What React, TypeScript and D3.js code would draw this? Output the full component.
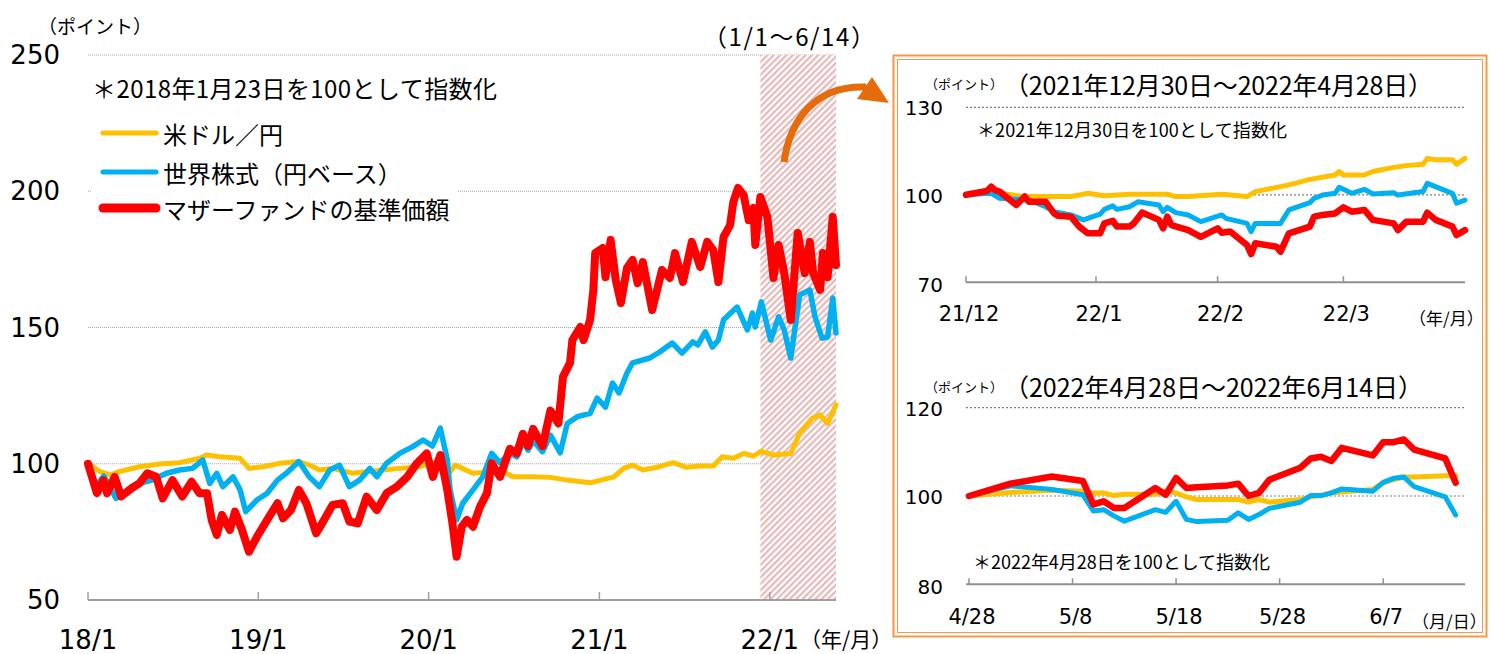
import * as d3 from "d3"

const parse = d3.timeParse("%Y-%m-%d")

// ---- 本体チャート（2018年1月23日=100） ----
const mainFxRate: [string, number][] = [
  ["2018-01-23", 100], ["2018-02-18", 97.1], ["2018-03-12", 95.9], ["2018-03-31", 97.1], ["2018-05-13", 98.9],
  ["2018-06-25", 99.9], ["2018-08-07", 100.4], ["2018-09-19", 102.0], ["2018-10-04", 103.2], ["2018-11-01", 102.6],
  ["2018-12-15", 102.0], ["2019-01-03", 98.3], ["2019-02-02", 98.9], ["2019-03-11", 100.2], ["2019-04-20", 100.8],
  ["2019-05-12", 99.5], ["2019-06-03", 97.7], ["2019-07-01", 98.3], ["2019-08-13", 96.5], ["2019-09-12", 97.1],
  ["2019-10-17", 97.7], ["2019-11-22", 98.3], ["2020-01-04", 98.9], ["2020-01-26", 100.2], ["2020-02-20", 101.2],
  ["2020-03-09", 97.0], ["2020-03-20", 99.5], ["2020-04-27", 96.5], ["2020-06-08", 97.1], ["2020-06-24", 97.7],
  ["2020-07-22", 95.2], ["2020-09-03", 95.2], ["2020-10-10", 95.0], ["2020-11-15", 94.0], ["2021-01-03", 93.0],
  ["2021-01-26", 94.0], ["2021-02-23", 95.2], ["2021-03-16", 98.3], ["2021-04-04", 99.5], ["2021-04-26", 97.7],
  ["2021-05-26", 98.7], ["2021-06-30", 100.4], ["2021-07-29", 98.7], ["2021-08-27", 99.2], ["2021-09-24", 99.2],
  ["2021-10-13", 102.6], ["2021-11-06", 102.0], ["2021-11-28", 103.8], ["2021-12-19", 102.8], ["2022-01-04", 104.6],
  ["2022-01-31", 103.2], ["2022-03-09", 103.8], ["2022-03-28", 111.2], ["2022-04-24", 116.7], ["2022-05-11", 117.9],
  ["2022-05-27", 114.8], ["2022-06-14", 121.6],
]

const mainWorldEquity: [string, number][] = [
  ["2018-01-23", 100], ["2018-02-09", 92.0], ["2018-02-26", 95.5], ["2018-03-24", 87.3], ["2018-04-15", 89.2],
  ["2018-05-13", 92.8], ["2018-06-09", 94.0], ["2018-07-10", 96.5], ["2018-08-07", 97.7], ["2018-09-04", 98.3],
  ["2018-09-26", 101.4], ["2018-10-11", 92.8], ["2018-10-26", 96.5], ["2018-11-08", 91.6], ["2018-11-30", 95.2],
  ["2018-12-15", 90.4], ["2018-12-27", 82.4], ["2019-01-20", 86.7], ["2019-02-11", 89.2], ["2019-03-05", 94.0],
  ["2019-03-24", 96.5], ["2019-04-20", 100.8], ["2019-05-12", 95.2], ["2019-06-03", 91.6], ["2019-06-25", 97.7],
  ["2019-07-16", 99.5], ["2019-08-06", 91.6], ["2019-08-28", 94.0], ["2019-09-19", 98.3], ["2019-10-04", 95.2],
  ["2019-10-25", 100.2], ["2019-11-22", 103.8], ["2019-12-20", 106.3], ["2020-01-11", 108.7], ["2020-01-31", 106.5],
  ["2020-02-17", 113.1], ["2020-03-03", 101.4], ["2020-03-09", 90.4], ["2020-03-23", 79.4], ["2020-04-05", 85.5],
  ["2020-04-27", 90.4], ["2020-05-18", 95.2], ["2020-06-06", 103.8], ["2020-06-24", 100.3], ["2020-07-15", 104.0],
  ["2020-07-30", 102.5], ["2020-08-12", 108.0], ["2020-08-23", 105.0], ["2020-09-03", 108.5], ["2020-09-23", 104.4],
  ["2020-10-10", 110.5], ["2020-10-31", 104.0], ["2020-11-15", 114.8], ["2020-12-07", 117.3], ["2021-01-03", 118.5],
  ["2021-01-18", 124.1], ["2021-02-05", 120.8], ["2021-02-20", 129.6], ["2021-03-06", 126.0], ["2021-03-23", 133.3],
  ["2021-04-04", 137.0], ["2021-05-11", 138.8], ["2021-06-01", 141.0], ["2021-06-28", 144.3], ["2021-07-19", 140.6],
  ["2021-08-11", 144.7], ["2021-08-22", 143.6], ["2021-09-07", 148.4], ["2021-09-22", 142.8], ["2021-10-05", 145.4],
  ["2021-10-16", 152.8], ["2021-11-14", 157.5], ["2021-12-06", 149.1], ["2021-12-17", 155.3], ["2021-12-23", 150.2],
  ["2022-01-05", 159.4], ["2022-01-25", 145.4], ["2022-02-11", 153.9], ["2022-02-23", 149.1], ["2022-03-09", 138.8],
  ["2022-03-28", 161.9], ["2022-04-19", 163.8], ["2022-04-30", 153.9], ["2022-05-15", 146.1], ["2022-05-27", 146.5],
  ["2022-06-07", 160.8], ["2022-06-14", 148.0],
]

const mainMotherFund: [string, number][] = [
  ["2018-01-23", 100], ["2018-02-11", 89.2], ["2018-02-25", 94.0], ["2018-03-05", 89.2], ["2018-03-21", 95.2],
  ["2018-04-04", 88.0], ["2018-04-26", 91.0], ["2018-05-13", 92.8], ["2018-05-30", 96.5], ["2018-06-18", 95.2],
  ["2018-07-02", 87.3], ["2018-07-23", 94.0], ["2018-08-13", 88.0], ["2018-09-02", 93.4], ["2018-09-19", 89.2],
  ["2018-10-05", 89.2], ["2018-10-15", 79.4], ["2018-10-26", 73.9], ["2018-11-06", 81.2], ["2018-11-23", 75.7],
  ["2018-12-04", 82.4], ["2018-12-19", 75.7], ["2019-01-03", 67.7], ["2019-01-20", 73.2], ["2019-02-11", 79.4],
  ["2019-03-05", 85.5], ["2019-03-17", 80.0], ["2019-04-03", 83.0], ["2019-04-20", 90.4], ["2019-05-06", 85.5],
  ["2019-05-27", 74.5], ["2019-06-13", 79.4], ["2019-07-01", 84.9], ["2019-07-23", 85.5], ["2019-08-06", 78.8],
  ["2019-08-24", 78.1], ["2019-09-12", 87.9], ["2019-10-04", 83.0], ["2019-10-25", 89.2], ["2019-11-16", 91.6],
  ["2019-12-08", 95.2], ["2019-12-29", 100.2], ["2020-01-19", 103.8], ["2020-02-01", 95.2], ["2020-02-17", 103.2],
  ["2020-03-03", 90.4], ["2020-03-14", 78.1], ["2020-03-23", 65.9], ["2020-04-03", 76.9], ["2020-04-14", 79.4],
  ["2020-04-27", 76.9], ["2020-05-12", 84.2], ["2020-05-27", 89.2], ["2020-06-06", 100.2], ["2020-06-24", 95.2],
  ["2020-07-15", 105.5], ["2020-07-30", 103.8], ["2020-08-12", 111.0], ["2020-08-23", 106.5], ["2020-09-03", 112.8],
  ["2020-09-23", 106.5], ["2020-10-10", 119.5], ["2020-10-27", 114.8], ["2020-11-06", 132.0], ["2020-11-21", 137.0],
  ["2020-11-26", 145.4], ["2020-12-13", 150.2], ["2020-12-20", 145.4], ["2021-01-03", 152.8], ["2021-01-10", 163.8],
  ["2021-01-14", 177.3], ["2021-01-30", 179.2], ["2021-02-05", 168.5], ["2021-02-16", 182.1], ["2021-02-27", 167.4],
  ["2021-03-10", 159.0], ["2021-03-23", 171.8], ["2021-04-04", 174.8], ["2021-04-15", 166.3], ["2021-04-26", 174.0],
  ["2021-05-16", 156.4], ["2021-06-06", 171.1], ["2021-06-23", 168.2], ["2021-07-04", 177.3], ["2021-07-21", 166.7],
  ["2021-08-09", 181.4], ["2021-08-27", 172.2], ["2021-09-11", 181.4], ["2021-09-24", 178.4], ["2021-10-05", 166.7],
  ["2021-10-16", 183.2], ["2021-10-30", 187.6], ["2021-11-06", 196.1], ["2021-11-16", 201.2], ["2021-11-28", 198.6],
  ["2021-12-09", 189.4], ["2021-12-19", 193.9], ["2021-12-23", 180.3], ["2022-01-03", 197.9], ["2022-01-18", 190.6],
  ["2022-01-31", 168.2], ["2022-02-11", 180.3], ["2022-02-23", 170.0], ["2022-03-09", 152.8], ["2022-03-24", 184.7],
  ["2022-04-08", 170.0], ["2022-04-19", 181.4], ["2022-04-26", 170.0], ["2022-05-11", 163.8], ["2022-05-17", 177.3],
  ["2022-05-27", 168.5], ["2022-06-07", 190.6], ["2022-06-14", 172.9],
]

const mainTickDates = ["2018-01-23", "2019-01-23", "2020-01-23", "2021-01-23", "2022-01-23"]
const mainTickLabels = ["18/1", "19/1", "20/1", "21/1", "22/1"]
const mainYTicks = [50, 100, 150, 200, 250]
const highlightRange = ["2022-01-03", "2022-06-14"]

// ---- 挿入図1（2021年12月30日=100） ----
const inset1FxRate: [string, number][] = [
  ["2021-12-30", 100], ["2022-01-04", 101.1], ["2022-01-07", 100.6], ["2022-01-12", 99.5], ["2022-01-18", 99.4],
  ["2022-01-24", 99.4], ["2022-01-28", 100.5], ["2022-02-01", 99.7], ["2022-02-07", 100.2], ["2022-02-16", 100.2],
  ["2022-02-18", 99.4], ["2022-02-21", 99.4], ["2022-03-01", 100.2], ["2022-03-07", 99.4], ["2022-03-09", 101.1],
  ["2022-03-15", 102.8], ["2022-03-17", 103.4], ["2022-03-22", 105.3], ["2022-03-28", 106.8], ["2022-03-29", 108.0],
  ["2022-03-30", 106.8], ["2022-04-04", 106.8], ["2022-04-06", 108.0], ["2022-04-11", 109.4], ["2022-04-14", 110.0],
  ["2022-04-18", 110.5], ["2022-04-19", 112.5], ["2022-04-21", 112.0], ["2022-04-25", 112.0], ["2022-04-26", 110.5],
  ["2022-04-28", 112.5],
]

const inset1WorldEquity: [string, number][] = [
  ["2021-12-30", 100], ["2022-01-05", 100.5], ["2022-01-07", 98.8], ["2022-01-11", 98.5], ["2022-01-14", 98.2],
  ["2022-01-18", 95.9], ["2022-01-20", 94.2], ["2022-01-24", 93.1], ["2022-01-27", 91.4], ["2022-01-28", 91.9],
  ["2022-01-31", 93.4], ["2022-02-01", 95.0], ["2022-02-03", 96.2], ["2022-02-04", 95.0], ["2022-02-07", 95.9],
  ["2022-02-09", 97.6], ["2022-02-14", 96.5], ["2022-02-15", 94.2], ["2022-02-16", 95.7], ["2022-02-18", 93.9],
  ["2022-02-21", 93.1], ["2022-02-24", 90.8], ["2022-03-01", 93.1], ["2022-03-02", 91.9], ["2022-03-07", 90.2],
  ["2022-03-08", 87.4], ["2022-03-09", 90.2], ["2022-03-15", 90.2], ["2022-03-17", 94.8], ["2022-03-22", 97.3],
  ["2022-03-23", 98.8], ["2022-03-25", 99.9], ["2022-03-28", 100.5], ["2022-03-29", 102.6], ["2022-04-01", 100.5],
  ["2022-04-04", 101.9], ["2022-04-06", 100.3], ["2022-04-11", 100.7], ["2022-04-12", 99.9], ["2022-04-18", 101.1],
  ["2022-04-19", 103.9], ["2022-04-25", 100.5], ["2022-04-26", 97.1], ["2022-04-28", 98.2],
]

const inset1MotherFund: [string, number][] = [
  ["2021-12-30", 100], ["2022-01-04", 101.3], ["2022-01-05", 102.8], ["2022-01-06", 101.5], ["2022-01-07", 101.1],
  ["2022-01-11", 96.5], ["2022-01-13", 99.4], ["2022-01-14", 97.6], ["2022-01-18", 97.6], ["2022-01-20", 93.6],
  ["2022-01-21", 92.8], ["2022-01-24", 92.5], ["2022-01-26", 89.1], ["2022-01-28", 86.8], ["2022-01-31", 86.8],
  ["2022-02-01", 90.2], ["2022-02-03", 91.1], ["2022-02-04", 89.1], ["2022-02-07", 89.1], ["2022-02-08", 90.2],
  ["2022-02-10", 93.9], ["2022-02-14", 91.4], ["2022-02-15", 88.5], ["2022-02-16", 92.5], ["2022-02-17", 89.6],
  ["2022-02-21", 87.9], ["2022-02-24", 85.6], ["2022-02-28", 88.5], ["2022-03-01", 87.0], ["2022-03-03", 87.4],
  ["2022-03-07", 82.8], ["2022-03-08", 79.7], ["2022-03-09", 83.4], ["2022-03-14", 82.2], ["2022-03-15", 80.5],
  ["2022-03-17", 86.8], ["2022-03-22", 89.1], ["2022-03-23", 92.5], ["2022-03-25", 93.1], ["2022-03-28", 93.6],
  ["2022-03-30", 95.7], ["2022-04-01", 94.2], ["2022-04-04", 94.8], ["2022-04-06", 91.4], ["2022-04-11", 90.2],
  ["2022-04-12", 87.9], ["2022-04-14", 90.8], ["2022-04-18", 90.8], ["2022-04-19", 93.9], ["2022-04-21", 91.4],
  ["2022-04-25", 89.1], ["2022-04-26", 86.2], ["2022-04-28", 87.9],
]

const inset1TickDates = ["2021-12-30", "2022-01-30", "2022-02-28", "2022-03-30"]
const inset1TickLabels = ["21/12", "22/1", "22/2", "22/3"]

// ---- 挿入図2（2022年4月28日=100） ----
const inset2Dates = [
  "2022-04-28", "2022-05-02", "2022-05-06", "2022-05-09", "2022-05-10", "2022-05-11", "2022-05-12", "2022-05-13",
  "2022-05-16", "2022-05-17", "2022-05-18", "2022-05-19", "2022-05-20", "2022-05-23", "2022-05-24", "2022-05-25",
  "2022-05-26", "2022-05-27", "2022-05-30", "2022-05-31", "2022-06-01", "2022-06-02", "2022-06-03", "2022-06-06",
  "2022-06-07", "2022-06-08", "2022-06-09", "2022-06-10", "2022-06-13", "2022-06-14",
]
const inset2FxRate = [100, 100.8, 101.3, 101.1, 100.7, 100.7, 100.1, 100.4, 100.4, 101.1, 100.7, 99.8, 99.2, 99.2, 99.2,
  98.6, 99.2, 98.6, 99.2, 99.8, 100.1, 100.7, 100.9, 101.5, 103.0, 103.7, 104.3, 104.3, 104.6, 104.6]
const inset2WorldEquity = [100, 102.3, 101.5, 100.3, 96.6, 96.9, 95.5, 94.3, 96.9, 96.3, 98.8, 94.7, 94.2, 94.5, 96.2,
  94.7, 95.8, 97.2, 98.6, 100.1, 100.1, 100.7, 101.6, 101.1, 103.1, 104.0, 104.3, 102.1, 99.8, 95.7]
const inset2MotherFund = [100, 102.8, 104.4, 103.4, 98.1, 98.8, 97.3, 97.3, 101.8, 100.3, 104.1, 101.8, 102.0, 102.4, 102.8,
  100.0, 100.7, 103.7, 106.4, 108.5, 108.9, 107.9, 110.9, 109.2, 112.2, 112.2, 112.8, 110.5, 108.5, 103.0]
const inset2TickDates = ["2022-04-28", "2022-05-08", "2022-05-18", "2022-05-28", "2022-06-07"]
const inset2TickLabels = ["4/28", "5/8", "5/18", "5/28", "6/7"]

const legendLabels = ["米ドル／円", "世界株式（円ベース）", "マザーファンドの基準価額"]

const YELLOW = "#FFC000"
const BLUE = "#00B0F0"
const RED = "#FF0000"
const ORANGE = "#F79646"
const JP = "'Noto Sans CJK JP', sans-serif"
const NUM = "'DejaVu Sans', sans-serif"

type Pt = [string, number]

function pathOf(data: Pt[], x: d3.ScaleTime<number, number>, y: d3.ScaleLinear<number, number>) {
  return d3.line<Pt>()
    .x(d => x(parse(d[0])!))
    .y(d => y(d[1]))(data) || ""
}

const Series = ({ d, color, w }: { d: string, color: string, w: number }) => (
  <path d={d} fill="none" stroke={color} strokeWidth={w} strokeLinejoin="round" strokeLinecap="round" />
)

export default function App() {
  // 本体
  const xMain = d3.scaleTime().domain([parse("2018-01-23")!, parse("2022-06-14")!]).range([88, 836])
  const yMain = d3.scaleLinear().domain([50, 250]).range([600, 55])
  const hx0 = xMain(parse(highlightRange[0])!)
  const hx1 = xMain(parse(highlightRange[1])!)

  // 挿入図1
  const x1 = d3.scaleTime().domain([parse("2021-12-30")!, parse("2022-04-28")!]).range([966, 1465])
  const y1 = d3.scaleLinear().domain([70, 130]).range([282.3, 107.3])

  // 挿入図2
  const x2 = d3.scaleTime().domain([parse("2022-04-28")!, parse("2022-06-15")!]).range([969, 1466])
  const y2 = d3.scaleLinear().domain([80, 120]).range([584.3, 407.7])
  const toPts = (vals: number[]): Pt[] => inset2Dates.map((dt, i) => [dt, vals[i]])

  const legendY = [133, 172, 208]
  const legendColors = [YELLOW, BLUE, RED]
  const legendWidths = [5, 5, 9]

  return (
    <svg width={1491} height={654} style={{ position: "absolute", left: 0, top: 0, background: "#fff" }}>
      <defs>
        <pattern id="hatch" width={4.5} height={4.5} patternUnits="userSpaceOnUse" patternTransform="rotate(45)">
          <rect width={4.5} height={4.5} fill="#fff" />
          <rect width={2.2} height={4.5} fill="#E6B9B8" />
        </pattern>
      </defs>

      {/* 本体：目盛線 */}
      {mainYTicks.filter(v => v > 50).map(v => (
        <line key={v} x1={88} x2={836} y1={yMain(v)} y2={yMain(v)} stroke="#a6a6a6" strokeWidth={1} strokeDasharray="1,1" />
      ))}
      <rect x={hx0} y={yMain(250)} width={hx1 - hx0} height={yMain(50) - yMain(250)} fill="url(#hatch)" />

      {/* 凡例の背景 */}
      <rect x={92} y={113} width={366} height={112} fill="#fff" />

      {/* 本体：軸 */}
      <line x1={88} x2={836} y1={600} y2={600} stroke="#a0a0a0" strokeWidth={2} />
      {mainTickDates.map((t, i) => {
        const x = xMain(parse(t)!)
        return (
          <g key={t}>
            <line x1={x} x2={x} y1={600} y2={592} stroke="#a0a0a0" strokeWidth={1.5} />
            <text x={x} y={640} textAnchor="middle" dominantBaseline="central" fontFamily={NUM} fontSize={26}>{mainTickLabels[i]}</text>
          </g>
        )
      })}
      {mainYTicks.map(v => (
        <text key={v} x={60} y={yMain(v)} textAnchor="end" dominantBaseline="central" fontFamily={NUM} fontSize={26}>{v}</text>
      ))}
      <text x={800} y={638} dominantBaseline="central" fontFamily={JP} fontSize={21}>（年/月）</text>
      <text x={38} y={25} dominantBaseline="central" fontFamily={JP} fontSize={19}>（ポイント）</text>
      <text x={703} y={35} dominantBaseline="central" fontFamily={JP} fontSize={24} textLength={172}>（1/1～6/14）</text>
      <text x={92} y={87} dominantBaseline="central" fontFamily={JP} fontSize={24} textLength={405}>＊2018年1月23日を100として指数化</text>

      {/* 本体：系列 */}
      <Series d={pathOf(mainFxRate, xMain, yMain)} color={YELLOW} w={5} />
      <Series d={pathOf(mainWorldEquity, xMain, yMain)} color={BLUE} w={5.5} />
      <Series d={pathOf(mainMotherFund, xMain, yMain)} color={RED} w={8} />

      {/* 凡例 */}
      {legendLabels.map((l, i) => (
        <g key={l}>
          <line x1={103} x2={156} y1={legendY[i]} y2={legendY[i]} stroke={legendColors[i]} strokeWidth={legendWidths[i]} strokeLinecap="round" />
          <text x={163} y={legendY[i]} dominantBaseline="central" fontFamily={JP} fontSize={24}>{l}</text>
        </g>
      ))}

      {/* 矢印 */}
      <path d="M784,162 C790,120 815,85 866,87" fill="none" stroke="#E46C0A" strokeWidth={7} />
      <polygon points="872,77 889,103 857,99" fill="#E46C0A" />

      {/* 挿入図の枠 */}
      <rect x={893.5} y={55.5} width={593} height={581} fill="#fff" stroke={ORANGE} strokeWidth={2} />
      <rect x={897.5} y={59.5} width={585} height={573} fill="none" stroke={ORANGE} strokeWidth={1} />

      {/* 挿入図1 */}
      {[130, 100].map(v => (
        <line key={v} x1={966} x2={1466} y1={y1(v)} y2={y1(v)} stroke="#808080" strokeWidth={1.2} strokeDasharray="2,2" />
      ))}
      <line x1={966} x2={1465} y1={y1(70)} y2={y1(70)} stroke="#909090" strokeWidth={2} />
      {inset1TickDates.map((t, i) => {
        const x = x1(parse(t)!)
        return (
          <g key={t}>
            <line x1={x} x2={x} y1={y1(70)} y2={y1(70) - 6} stroke="#909090" strokeWidth={1.5} />
            <text x={x + 3} y={313.5} textAnchor="middle" dominantBaseline="central" fontFamily={NUM} fontSize={21}>{inset1TickLabels[i]}</text>
          </g>
        )
      })}
      {[130, 100, 70].map(v => (
        <text key={v} x={943} y={y1(v) + (v === 70 ? 3 : 1)} textAnchor="end" dominantBaseline="central" fontFamily={NUM} fontSize={20}>{v}</text>
      ))}
      <text x={925} y={83.5} dominantBaseline="central" fontFamily={JP} fontSize={13}>（ポイント）</text>
      <text x={1004} y={84} dominantBaseline="central" fontFamily={JP} fontSize={25} textLength={429}>（2021年12月30日～2022年4月28日）</text>
      <text x={977} y={129} dominantBaseline="central" fontFamily={JP} fontSize={18} textLength={310}>＊2021年12月30日を100として指数化</text>
      <text x={1409} y={317} dominantBaseline="central" fontFamily={JP} fontSize={17}>（年/月）</text>
      <Series d={pathOf(inset1FxRate, x1, y1)} color={YELLOW} w={5} />
      <Series d={pathOf(inset1WorldEquity, x1, y1)} color={BLUE} w={5} />
      <Series d={pathOf(inset1MotherFund, x1, y1)} color={RED} w={6.5} />

      {/* 挿入図2 */}
      {[120, 100].map(v => (
        <line key={v} x1={966} x2={1466} y1={y2(v)} y2={y2(v)} stroke="#808080" strokeWidth={1.2} strokeDasharray="2,2" />
      ))}
      <line x1={966} x2={1465} y1={y2(80)} y2={y2(80)} stroke="#909090" strokeWidth={2} />
      {inset2TickDates.map((t, i) => {
        const x = x2(parse(t)!)
        return (
          <g key={t}>
            <line x1={x} x2={x} y1={y2(80)} y2={y2(80) - 6} stroke="#909090" strokeWidth={1.5} />
            <text x={x + 3} y={616.5} textAnchor="middle" dominantBaseline="central" fontFamily={NUM} fontSize={21}>{inset2TickLabels[i]}</text>
          </g>
        )
      })}
      {[120, 100, 80].map(v => (
        <text key={v} x={943} y={y2(v) + (v === 80 ? 3 : 1)} textAnchor="end" dominantBaseline="central" fontFamily={NUM} fontSize={20}>{v}</text>
      ))}
      <text x={925} y={386} dominantBaseline="central" fontFamily={JP} fontSize={13}>（ポイント）</text>
      <text x={1004} y={386} dominantBaseline="central" fontFamily={JP} fontSize={25} textLength={419}>（2022年4月28日～2022年6月14日）</text>
      <text x={973} y={561} dominantBaseline="central" fontFamily={JP} fontSize={18} textLength={297}>＊2022年4月28日を100として指数化</text>
      <text x={1412} y={620} dominantBaseline="central" fontFamily={JP} fontSize={17}>（月/日）</text>
      <Series d={pathOf(toPts(inset2FxRate), x2, y2)} color={YELLOW} w={5} />
      <Series d={pathOf(toPts(inset2WorldEquity), x2, y2)} color={BLUE} w={5} />
      <Series d={pathOf(toPts(inset2MotherFund), x2, y2)} color={RED} w={6.5} />
    </svg>
  )
}
